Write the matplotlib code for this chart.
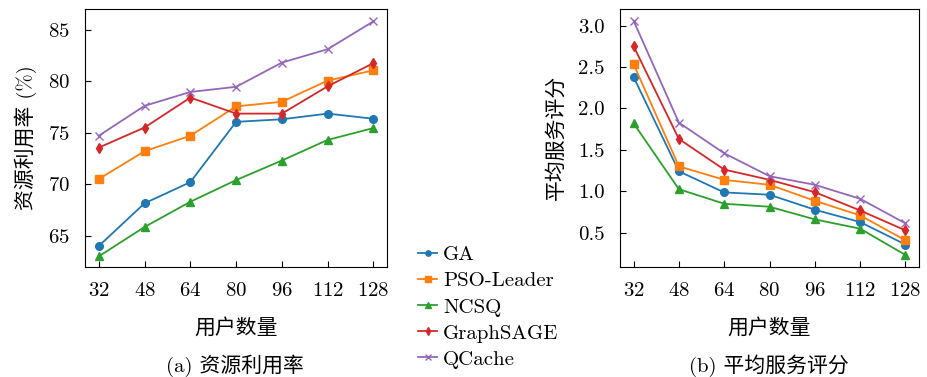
import matplotlib
matplotlib.use('Agg')
import matplotlib.pyplot as plt

plt.rcParams['font.family'] = ['cmr10', 'Noto Sans CJK SC']
plt.rcParams['axes.formatter.use_mathtext'] = True
plt.rcParams['font.size'] = 15

# user counts on the x axis
users = [32, 48, 64, 80, 96, 112, 128]
methods = ['GA', 'PSO-Leader', 'NCSQ', 'GraphSAGE', 'QCache']

# (a) resource utilization (%)
util_ga = [64.0, 68.15, 70.2, 76.05, 76.3, 76.85, 76.35]
util_pso = [70.5, 73.2, 74.7, 77.55, 78.0, 80.05, 81.05]
util_ncsq = [63.0, 65.85, 68.3, 70.4, 72.3, 74.3, 75.45]
util_sage = [73.55, 75.5, 78.4, 76.85, 76.85, 79.5, 81.75]
util_qcache = [74.7, 77.6, 78.95, 79.45, 81.8, 83.1, 85.8]

# (b) average service score
score_ga = [2.38, 1.24, 0.985, 0.957, 0.776, 0.627, 0.355]
score_pso = [2.535, 1.30, 1.137, 1.077, 0.884, 0.707, 0.406]
score_ncsq = [1.82, 1.024, 0.848, 0.812, 0.659, 0.547, 0.229]
score_sage = [2.752, 1.631, 1.261, 1.137, 0.988, 0.767, 0.526]
score_qcache = [3.06, 1.828, 1.458, 1.181, 1.077, 0.908, 0.611]

colors = ['#1f77b4', '#ff7f0e', '#2ca02c', '#d62728', '#9467bd']
markers = ['o', 's', '^', 'd', 'x']

fig = plt.figure(figsize=(9.27, 3.77), dpi=100)
ax1 = fig.add_axes([0.0917, 0.2926, 0.326, 0.6836])
ax2 = fig.add_axes([0.6688, 0.2926, 0.3226, 0.6836])

util = [util_ga, util_pso, util_ncsq, util_sage, util_qcache]
score = [score_ga, score_pso, score_ncsq, score_sage, score_qcache]

for vals, c, m, name in zip(util, colors, markers, methods):
    ax1.plot(users, vals, color=c, marker=m, markersize=5.5, linewidth=1.3, label=name)
for vals, c, m, name in zip(score, colors, markers, methods):
    ax2.plot(users, vals, color=c, marker=m, markersize=5.5, linewidth=1.3)

ax1.set_ylim(62, 87)
ax1.set_yticks([65, 70, 75, 80, 85])
ax2.set_yticks([0.5, 1.0, 1.5, 2.0, 2.5, 3.0])
ax2.set_yticklabels(['0.5', '1.0', '1.5', '2.0', '2.5', '3.0'])

for ax in (ax1, ax2):
    ax.set_xticks(users)
    ax.tick_params(direction='in', length=4, labelsize=15, pad=11)
    ax.set_xlabel('用户数量', fontsize=15, labelpad=13)

ax1.set_ylabel('资源利用率 (%)', fontsize=15, labelpad=8)
ax2.set_ylabel('平均服务评分', fontsize=15, labelpad=9)

fig.text(0.2535, 0.03, '(a) 资源利用率', ha='center', va='center', fontsize=15)
fig.text(0.829, 0.03, '(b) 平均服务评分', ha='center', va='center', fontsize=15)

handles, labels = ax1.get_legend_handles_labels()
fig.legend(handles, labels, loc='center', bbox_to_anchor=(0.527, 0.185),
           frameon=False, handlelength=0.9, handletextpad=0.3, markerscale=0.7,
           labelspacing=0.36, fontsize=15)

fig.savefig('out.png', dpi=100)
